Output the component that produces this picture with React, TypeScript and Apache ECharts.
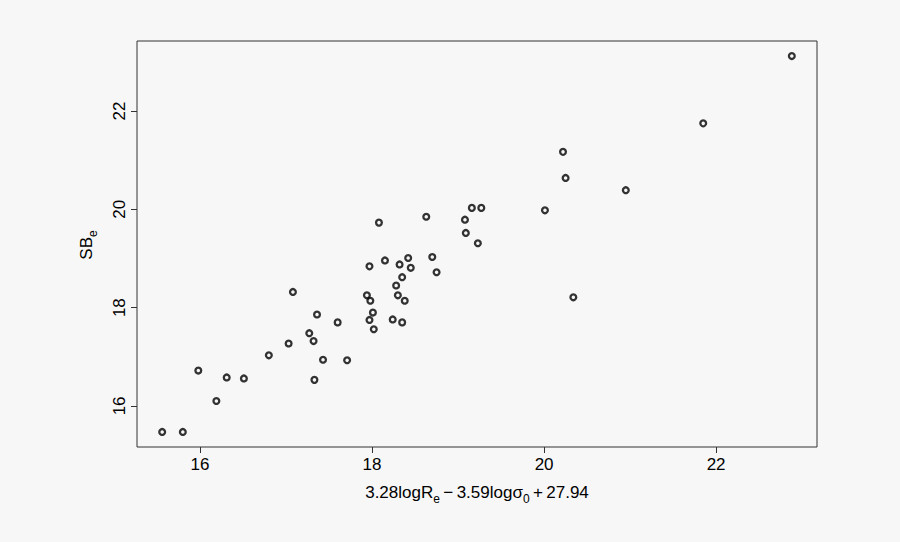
import React, { useEffect, useRef } from "react";
import * as echarts from "echarts";

const xValues = [15.56, 15.8, 15.98, 16.19, 16.31, 16.51, 16.8, 17.08, 17.03, 17.27, 17.32, 17.36, 17.33, 17.43, 17.6, 17.71, 18.08, 17.97, 17.94, 17.98, 18.01, 17.97, 18.02, 18.15, 18.24, 18.35, 18.28, 18.3, 18.38, 18.35, 18.32, 18.42, 18.45, 18.63, 18.7, 18.75, 19.08, 19.09, 19.16, 19.27, 19.23, 20.01, 20.22, 20.25, 20.34, 20.95, 21.85, 22.88];
const yValues = [15.47, 15.47, 16.72, 16.1, 16.58, 16.56, 17.03, 18.32, 17.27, 17.48, 17.32, 17.86, 16.53, 16.94, 17.7, 16.93, 19.73, 18.84, 18.25, 18.14, 17.9, 17.75, 17.56, 18.96, 17.76, 17.7, 18.45, 18.25, 18.14, 18.62, 18.88, 19.01, 18.81, 19.85, 19.03, 18.72, 19.79, 19.52, 20.03, 20.03, 19.31, 19.98, 21.17, 20.64, 18.21, 20.39, 21.75, 23.12];
const xTicks = [16, 18, 20, 22];
const yTicks = [16, 18, 20, 22];
const xTitle = "3.28logR{sub|e}\u2009\u2212\u20093.59log\u03c3{sub|0}\u2009+\u200927.94";
const yTitle = "SB{sub|e}";

function rRange(vals: number[]) {
  const mn = Math.min(...vals);
  const mx = Math.max(...vals);
  const pad = (mx - mn) * 0.04;
  return [mn - pad, mx + pad];
}

const FONT = "'Liberation Sans', Arial, Helvetica, sans-serif";

export default function App() {
  const ref = useRef<HTMLDivElement>(null);
  useEffect(() => {
    if (!ref.current) return;
    const chart = echarts.init(ref.current, undefined, { renderer: "svg" });
    const [xmin, xmax] = rRange(xValues);
    const [ymin, ymax] = rRange(yValues);
    const data = xValues.map((x, i) => [x, yValues[i]]);
    const axisCommon = {
      type: "value" as const,
      axisLine: { show: false },
      splitLine: { show: false },
      axisTick: { show: true, inside: false, length: 6, lineStyle: { color: "#333", width: 1 } },
    };
    chart.setOption({
      animation: false,
      backgroundColor: "#f7f7f7",
      grid: {
        left: 137,
        right: 83,
        top: 41,
        bottom: 95,
        show: true,
        borderColor: "#333",
        borderWidth: 1,
        backgroundColor: "transparent",
        containLabel: false,
      },
      xAxis: {
        ...axisCommon,
        min: xmin,
        max: xmax,
        axisTick: { ...axisCommon.axisTick, customValues: xTicks },
        axisLabel: {
          customValues: xTicks,
          fontSize: 17,
          color: "#000",
          fontFamily: FONT,
          margin: 9,
        },
      },
      yAxis: {
        ...axisCommon,
        min: ymin,
        max: ymax,
        axisTick: { ...axisCommon.axisTick, customValues: yTicks },
        axisLabel: {
          customValues: yTicks,
          fontSize: 17,
          color: "#000",
          fontFamily: FONT,
          rotate: 90,
          margin: 9,
        },
      },
      series: [
        {
          type: "scatter",
          data,
          symbol: "circle",
          symbolSize: 5.8,
          itemStyle: { color: "transparent", borderColor: "#000", borderWidth: 2.3 },
          emphasis: { disabled: true },
        },
      ],
      graphic: [
        {
          type: "text",
          x: 477,
          y: 492,
          style: {
            text: xTitle,
            fontSize: 17,
            fontFamily: FONT,
            fill: "#000",
            lineHeight: 26,
            align: "center",
            verticalAlign: "middle",
            rich: {
              sub: { fontSize: 12, lineHeight: 12, verticalAlign: "bottom", fontFamily: FONT, fill: "#000" },
            },
          },
        },
        {
          type: "text",
          x: 86,
          y: 245,
          rotation: Math.PI / 2,
          style: {
            text: yTitle,
            fontSize: 17,
            fontFamily: FONT,
            fill: "#000",
            lineHeight: 26,
            align: "center",
            verticalAlign: "middle",
            rich: {
              sub: { fontSize: 12, lineHeight: 12, verticalAlign: "bottom", fontFamily: FONT, fill: "#000" },
            },
          },
        },
      ],
    });
    return () => chart.dispose();
  }, []);
  return <div ref={ref} style={{ position: "absolute", left: 0, top: 0, width: 900, height: 542 }} />;
}
